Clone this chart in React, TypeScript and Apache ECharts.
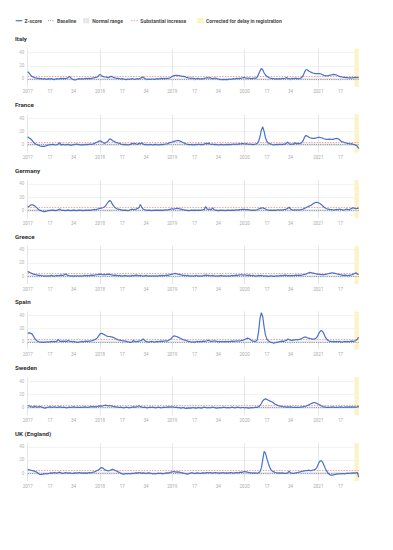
import React, { useEffect, useRef } from "react";
import * as echarts from "echarts";

// ---------- DATA ----------
const years = [2017, 2018, 2019, 2020, 2021];
const weeksInYear = [52, 52, 52, 53, 30];
const labelWeeks = [1, 17, 34];
const yTickValues = [0, 20, 40];
const countries = ["Italy", "France", "Germany", "Greece", "Spain", "Sweden", "UK (England)"];

const baselineValue = 0;
const normalRange = [-2, 2];
const substantialIncrease = 4;
const correctedWeeks = ["2021-W27", "2021-W30"];

const italy = [
  // 2017
  11, 9, 6, 4, 3, 2, 1.5, 1, 1, 0.5, 0.5, 0, 0.5,
  0, -0.5, 0.5, 0, 0.5, 0, -1, 0, 0.5, 0, 0.5, 1, 0.5,
  1, 0.5, 1, 2, 4, 1.5, 0, -1, -1.5, -1, 0, 0.5, 0,
  0.5, 0, 0.5, 1, 0.5, 1, 0.5, 1, 1.5, 2, 2.5, 3, 5,
  // 2018
  7, 5, 4, 3, 3, 2.5, 2, 3, 4, 3, 2, 1.5, 1,
  1, 0.5, 0, 0.5, 0, -0.5, -1, 0, -0.5, 0, 0.5, 0, -0.5,
  0, 0.5, 0, 1, 2, 3, 1, 0, -0.5, 0, -0.5, 0, 0,
  -0.5, 0, 0.5, 0, 0.5, 1, 0.5, 1, 0.5, 1, 1, 1.5, 2.5,
  // 2019
  4, 5, 5.5, 5.5, 5, 5, 4.5, 4, 4, 3.5, 2.5, 2, 1.5,
  1, 1.5, 1, 0.5, 0, 1, 0.5, 0, 0.5, 0, 1, 1.5, 2,
  1.5, 2, 1, 0.5, 1, 1.5, 0.5, 0, -0.5, -1, -1, -0.5, -1,
  -0.5, -1, 0, -0.5, 0, 0.5, 0, 1, 0.5, 1, 1, 1.5, 2,
  // 2020
  2, 1.5, 1, 1.5, 1, 0.5, 1, 1.5, 1, 3, 7, 12, 16,
  14, 9, 6, 4, 2.5, 1.5, 1, 0.5, 0.5, 0, 0.5, 0, 0.5,
  0, 1, 0.5, 1, 2, 1, 0.5, 0, 1, 0.5, 1, 1, 0.5,
  0.5, 1, 2, 5, 10, 14, 14, 12, 11, 10, 9, 8.5, 8, 8,
  // 2021
  8, 8, 7.5, 6.5, 5.5, 5, 4.5, 5, 5.5, 6, 6.5, 7, 6.5,
  6, 5, 4, 3.5, 3, 2.5, 2.5, 2, 2, 1.5, 2, 1.5, 2,
  2, 2.5, 2, 2,
];

const france = [
  // 2017
  12, 10, 9, 7, 4, 2, 0.5, 0, -1, -2, -2.5, -2.5, -2.5,
  -2, -1, -0.5, 0, 0, 0.5, 0, -0.5, 0, 1, 3, -1, 0.5,
  0, -0.5, 0, 0.5, 0, -1, -0.5, 0, 0.5, 1, 0.5, 0, -0.5,
  0, -0.5, 0, 0.5, 0, 0.5, 1, 0.5, 1, 2, 3, 4, 5,
  // 2018
  6, 5, 3.5, 2, 3, 4, 6, 9, 8, 6, 5, 4, 3,
  2.5, 2, 1, 0.5, 0, 0.5, 0, -0.5, 0, 0.5, 2, 1, 2,
  1, 0.5, 2, 1.5, 3, 1, 0, 0.5, 0, -0.5, 0.5, 0, -0.5,
  0, 0.5, 0, -0.5, 0, 0.5, 0, 0.5, 1, 1, 2, 3, 3.5,
  // 2019
  4, 5, 5.5, 6, 6.5, 6, 5, 4, 3, 2, 1, 0.5, 0,
  0, 0.5, -0.5, 0, 0.5, 0, 1, 0, 0.5, 0, 1, 2, 1,
  2.5, 1, 0.5, 1, 0, 0.5, 0, -0.5, 0, 0.5, 0, -0.5, 0,
  0.5, 0, 0.5, 0, 0.5, 1, 0.5, 1, 0.5, 1.5, 1, 1.5, 1.5,
  // 2020
  1, 1.5, 1, 0.5, 1, 0.5, 0, 0.5, 1, 2, 5, 12, 22,
  27, 20, 10, 5, 2.5, 1.5, 1, 0, -0.5, 0, 0.5, 0, 0.5,
  0.5, 0, 1, 0.5, 2, 4, 1.5, 0.5, 1, 0.5, 3, 1.5, 2,
  1.5, 2, 3, 6, 11, 14, 13, 11.5, 10.5, 10, 9.5, 9.5, 10, 10.5,
  // 2021
  11, 11, 10.5, 10, 9, 8.5, 8, 8, 8.5, 8, 8, 8.5, 9,
  9.5, 9, 8, 6, 4.5, 4, 3, 2.5, 2, 1.5, 1, 1.5, 0.5,
  0, -1, -2, -6,
];

const germany = [
  // 2017
  5, 6, 8, 8.5, 8, 7, 5, 3, 1, 0, -1, -1.5, -2,
  -1.5, -1, -0.5, 0, 0, 0.5, 0, -0.5, 0, 1, 2, 0.5, 0,
  0, -0.5, 0, 0.5, 0, -0.5, 0, 0.5, 0, -0.5, 0, 0.5, 0,
  0, -0.5, 0, 0.5, 0, 0.5, 0, 0.5, 1, 1.5, 1, 2, 2.5,
  // 2018
  3, 3.5, 4, 5, 7, 10, 13, 15, 13, 9, 6, 4, 2.5,
  2, 1.5, 1, 0.5, 0, 0.5, 0, -0.5, 0, 1, 2, 1, 1.5,
  2, 3, 4, 9, 5, 2, 1, 0.5, 0, 0.5, 0, -0.5, 0,
  0, 0.5, 0, 0.5, 0, 0.5, 0, 0.5, 1, 0.5, 1, 1.5, 2,
  // 2019
  2.5, 2, 2.5, 3, 3, 2.5, 2, 1.5, 1, 0.5, 0, 0, -0.5,
  0, 0.5, 0, 0.5, 0, 0, 0.5, 0, 0.5, 1, 1.5, 6, 2,
  1.5, 2, 1, 4, 1, 0.5, 0, -0.5, 0, 0.5, 0, 0, -0.5,
  0, 0.5, 0, 0, 0.5, 0, 0.5, 1, 0.5, 1, 1, 1.5, 1.5,
  // 2020
  1.5, 1, 1.5, 1, 0.5, 0, 0.5, 0, 0.5, 1, 2, 3, 3.5,
  4, 3, 2, 1, 0.5, 0, 0.5, 0, 0.5, 0, 0.5, 1, 0.5,
  1, 0.5, 1, 1.5, 2, 3, 5, 2, 1, 0.5, 1, 0.5, 1,
  0.5, 1, 1.5, 2, 3, 4, 5, 6, 7, 8, 9.5, 11, 12, 12,
  // 2021
  11.5, 10.5, 9, 7, 5, 3.5, 2.5, 2, 1.5, 1, 1, 0.5, 1,
  1.5, 1, 2, 1.5, 1, 0.5, 1, 2, 1.5, 1, 2, 3, 4,
  3, 2.5, 3, 3,
];

const greece = [
  // 2017
  7, 6, 5, 4, 3, 2.5, 2, 1.5, 1, 1, 0.5, 0.5, 0,
  0.5, 0, 0.5, 0, 1, 0.5, 0, 0.5, 1, 0.5, 1, 1.5, 1,
  1.5, 3, 2, 1, 0.5, 0, 0.5, 0, 0.5, 0, 0.5, 0, 0.5,
  0, 0.5, 1, 0.5, 1, 0.5, 1, 1.5, 1, 1.5, 2, 2, 2.5,
  // 2018
  3, 2.5, 2, 2.5, 2, 2.5, 3, 2.5, 2, 1.5, 1, 1.5, 1,
  0.5, 1, 0.5, 0, 0.5, 1, 0.5, 0, 0.5, 0, 1, 0.5, 1,
  1.5, 1, 0.5, 1, 0.5, 0, 0.5, 1, 0.5, 0, 0.5, 0, 0.5,
  0, 0.5, 0, 0.5, 1, 0.5, 1, 0.5, 1, 1.5, 1, 2, 2.5,
  // 2019
  3, 3.5, 4, 3.5, 3, 2.5, 2, 1.5, 1, 1, 0.5, 1, 0.5,
  0, 0.5, 0, 0.5, 1, 0.5, 0, 0.5, 0, 0.5, 1, 1.5, 1,
  1, 0.5, 0.5, 1, 0.5, 0, 0.5, 0, 0.5, 1, 0.5, 0, 0.5,
  0, 0.5, 0, 0.5, 1, 0.5, 1, 1.5, 1, 1.5, 2, 2, 1.5,
  // 2020
  2, 1.5, 1, 1.5, 1, 0.5, 1, 0.5, 0, 0.5, 1, 0.5, 1,
  0.5, 0, 0.5, 0, -0.5, 0, 0.5, 0, -0.5, 0, 0.5, 0, 0.5,
  1, 0.5, 1, 1.5, 1, 0.5, 1, 0.5, 1, 0.5, 1, 1.5, 1,
  1.5, 1, 1.5, 2, 2.5, 3, 4, 5, 5.5, 5, 4.5, 4, 3.5, 3,
  // 2021
  3, 2.5, 2, 2.5, 2, 2.5, 3, 3.5, 4, 4.5, 5, 4.5, 4,
  3.5, 3, 2.5, 2, 1.5, 1, 1.5, 1, 0.5, 1, 1.5, 2, 3,
  4, 5, 3, 2.5,
];

const spain = [
  // 2017
  13, 13.5, 13, 12, 9, 5, 2.5, 1, 0, -0.5, -0.5, -1, -0.5,
  -0.5, 0, -0.5, 0, 0.5, 0, 0.5, 0, 1, 3.5, 1, 0.5, 1,
  0.5, 1, 0.5, 2, 1, 0.5, 0, 0.5, 0, -0.5, -1, -0.5, 0,
  0.5, 0, 0.5, 1, 0.5, 1, 1, 1.5, 2, 3, 4, 6, 9,
  // 2018
  12, 13, 12, 11, 9.5, 8.5, 8, 8, 7.5, 7, 6, 5, 4,
  3, 2.5, 2, 1.5, 1.5, 1, 0.5, 0, -0.5, -1, -0.5, 2, 0.5,
  0, 0.5, 1, 1.5, 2, 4.5, 2, 0.5, 0, -0.5, 0, 0.5, 0,
  -0.5, 0, 0.5, 0, 0.5, 1, 0.5, 1, 1.5, 1, 2, 3, 4.5,
  // 2019
  7, 9, 8.5, 8, 7, 6, 5, 4, 3, 2.5, 2, 1, 0.5,
  0, -0.5, 0, -0.5, 0, 0.5, 0, 0.5, 0, 1, 0.5, 1, 1.5,
  2.5, 1, 0.5, 1, 1.5, 1, 0.5, 0, 0.5, 0, 0.5, 0, 0.5,
  0, 0.5, 0, 0.5, 1, 0.5, 1, 1, 1.5, 1, 1.5, 2, 2.5,
  // 2020
  3.5, 4.5, 5.5, 5, 3.5, 2, 1, 0.5, 0.5, 3, 15, 35, 44,
  38, 22, 10, 4, 1.5, 0, -1, -1.5, -2, -1.5, -1, -0.5, 0,
  0.5, 1, 0.5, 1.5, 2, 4, 3.5, 2.5, 2, 2.5, 3, 3.5, 3,
  3.5, 4, 5, 6, 7, 7, 6, 5.5, 5, 4.5, 4, 4, 5, 7,
  // 2021
  11, 15, 17, 16, 12, 7, 4, 2, 1, 0.5, 0, 0.5, 0,
  0.5, 0, 0.5, 0, -0.5, 0, 0.5, 0, 0.5, 0, 0.5, 1, 0.5,
  1, 2, 4, 7,
];

const sweden = [
  // 2017
  3, 2.5, 1.5, 1, 0.5, 2, 1, 0.5, 1, 1.5, 0.5, 0, -1,
  -0.5, 0, 0.5, 1, 0.5, 0, 1, 0.5, 0, 0.5, 1, 0.5, 0,
  0.5, 0, -0.5, 0, 0.5, 0, 0.5, 1, 0.5, 0, 0.5, 0, 0.5,
  0, 0.5, 1, 0.5, 0, 0.5, 1, 1.5, 1, 1.5, 1, 1.5, 2,
  // 2018
  2.5, 2, 2.5, 3, 3.5, 3, 2.5, 3, 2.5, 2, 1.5, 1, 0.5,
  0.5, 0, 0.5, 0, -0.5, 0, 0.5, 0, -0.5, 0, 0.5, 1, 0.5,
  1, 1.5, 2.5, 1.5, 0.5, 0, 0.5, 0, -0.5, 0, 0.5, 0, 0.5,
  0, -0.5, 0, 0.5, 0, -0.5, 0, 0.5, 0, 0.5, 1, 0.5, 1,
  // 2019
  1, 0.5, 0, 0.5, -0.5, 0, -1, -0.5, 0, -1, -1.5, -1, -0.5,
  -1, -0.5, 0, -0.5, -1, -0.5, 0, -0.5, -1, 0, 0.5, 0, -0.5,
  0, -0.5, 0, 0.5, 0, -0.5, -1, -0.5, 0, -0.5, 0, 0.5, 0,
  -0.5, 0, -0.5, 0, 0.5, 0, -0.5, 0, 0.5, 0, -0.5, 0, 0,
  // 2020
  -0.5, 0, -0.5, -1, -0.5, 0, -0.5, 0, 0.5, 0, 1, 3, 6,
  10, 12, 13, 12, 11, 10, 9, 8, 6.5, 5, 4, 3, 2.5,
  2, 1.5, 1, 1, 0.5, 1, 0.5, 1, 0.5, 0, 0.5, 0, 0.5,
  0, 0.5, 1, 1, 1.5, 2, 3, 4, 5, 6, 7, 7.5, 7, 6,
  // 2021
  5, 4, 2.5, 1.5, 1, 0.5, 0, 0.5, 0, 0.5, 1, 0.5, 0,
  0.5, 0, 0.5, 1, 0.5, 0, 0.5, 1, 0.5, 1, 0.5, 1, 0.5,
  1, 0.5, 1, 2,
];

const ukEngland = [
  // 2017
  6, 5, 4.5, 4, 3.5, 3, 2, 0.5, -1, -2, -2, -1.5, -1,
  -0.5, -1, -0.5, 0, 0.5, 0, 1, 0.5, 0, 1, 1.5, 0.5, -0.5,
  0, 1, 0.5, 0, 0.5, 0, -0.5, 0, 0.5, 0, 0.5, 1, 0.5,
  0, 0.5, 0, 0.5, 0, 1, 0.5, 1, 1.5, 2, 3, 4, 5,
  // 2018
  7, 8.5, 8, 6, 4.5, 4, 3.5, 4, 5, 6, 5, 4, 3,
  2, 1, 0, -1, -1.5, -1, -0.5, -1, -0.5, -1, 0, -0.5, 0,
  0.5, 0, 1, 0.5, 0, 0.5, 0, -0.5, 0, 0.5, 0, -0.5, -1,
  -0.5, -1, -0.5, 0, -0.5, 0, -1, -0.5, 0, 0.5, 0, 1, 1.5,
  // 2019
  2, 2.5, 2, 1.5, 2, 1.5, 1, 0.5, 0, -0.5, -1, -1.5, -0.5,
  0, 1, 0, -0.5, 0, 0.5, 0, -0.5, 0, 0.5, 0, 0.5, 1,
  0.5, 1, 0.5, 0, 0.5, 1, 0.5, 0, 0.5, 0, 1, 0.5, 0,
  0.5, 0, 0.5, 1, 0.5, 0, 0.5, 1, 0.5, 1, 1.5, 1, 2,
  // 2020
  2.5, 2, 1.5, 1, 0.5, 0.5, 0, 0.5, 0, 0, 0.5, 2, 8,
  20, 33, 30, 22, 15, 9, 5, 3, 2, 1, 0.5, 0, 0.5,
  0, 0.5, 0, -0.5, 0, 0.5, 3, 0.5, 0, -0.5, 0, 0.5, 1,
  1.5, 2, 2.5, 3, 3.5, 4, 4, 4.5, 4, 4, 4.5, 5, 6, 9,
  // 2021
  14, 18, 19, 17, 12, 7, 3, 0, -2, -3, -3, -2.5, -2,
  -1.5, -1, -1, -0.5, -1, -0.5, -1, -0.5, 0, -0.5, 0, 0, 0.5,
  0, 0.5, 1, -6,
];

const seriesValues = [italy, france, germany, greece, spain, sweden, ukEngland];

// ---------- LAYOUT ----------
const W = 393;
const H = 550;
const GRID_LEFT = 27.7;
const GRID_RIGHT = 34.3;
const PANEL_TOP0 = 48.6;
const PANEL_STEP = 65.7;
const PANEL_H = 38.3;
const Y_MIN = -12;
const Y_MAX = 46;
const FONT = "Roboto, 'Noto Sans', sans-serif";

const BLUE = "#4a72c8";
const RED = "#f19a9a";
const GREY_DOT = "#8a8a8a";
const BAND = "#e6eaef";
const YELLOW = "#fcf3c4";

const categories: string[] = [];
years.forEach((y, i) => {
  for (let w = 1; w <= weeksInYear[i]; w++) categories.push(`${y}-W${w}`);
});

const weekOf = (c: string) => parseInt(c.split("-W")[1], 10);
const yearOf = (c: string) => c.split("-W")[0];

export default function App() {
  const ref = useRef<HTMLDivElement>(null);

  useEffect(() => {
    if (!ref.current) return;
    const chart = echarts.init(ref.current, null, { renderer: "svg" });

    const grids: any[] = [];
    const xAxes: any[] = [];
    const yAxes: any[] = [];
    const series: any[] = [];
    const graphics: any[] = [];

    countries.forEach((name, i) => {
      const top = PANEL_TOP0 + PANEL_STEP * i;
      grids.push({ left: GRID_LEFT, right: GRID_RIGHT, top, height: PANEL_H });
      xAxes.push({
        type: "category",
        gridIndex: i,
        data: categories,
        boundaryGap: false,
        axisLine: { show: false },
        axisTick: {
          show: true,
          length: 2,
          interval: (idx: number, v: string) => labelWeeks.includes(weekOf(v)),
          lineStyle: { color: "#cccccc", width: 0.6 },
        },
        axisLabel: {
          interval: (idx: number, v: string) => labelWeeks.includes(weekOf(v)),
          formatter: (v: string) => (weekOf(v) === 1 ? yearOf(v) : String(weekOf(v))),
          fontSize: 4.5,
          color: "#aaaaaa",
          fontFamily: FONT,
          margin: 2.5,
        },
        splitLine: {
          show: true,
          interval: (idx: number, v: string) => weekOf(v) === 1,
          lineStyle: { color: "#dddddd", width: 0.7 },
        },
      });
      yAxes.push({
        type: "value",
        gridIndex: i,
        min: Y_MIN,
        max: Y_MAX,
        axisLine: { show: false },
        axisTick: { show: false, customValues: yTickValues },
        axisLabel: {
          customValues: yTickValues,
          fontSize: 4.5,
          color: "#b5b5b5",
          fontFamily: FONT,
          margin: 3.5,
        },
        splitLine: { show: true, lineStyle: { color: "#eeeeee", width: 0.7 } },
      });
      series.push({
        name: "Z-score",
        type: "line",
        xAxisIndex: i,
        yAxisIndex: i,
        data: seriesValues[i],
        symbol: "none",
        lineStyle: { color: BLUE, width: 1.2 },
        z: 3,
        markArea: {
          silent: true,
          z: 1,
          data: [
            [{ yAxis: normalRange[0], itemStyle: { color: BAND } }, { yAxis: normalRange[1] }],
            [{ xAxis: correctedWeeks[0], itemStyle: { color: YELLOW } }, { xAxis: correctedWeeks[1] }],
          ],
        },
        markLine: {
          silent: true,
          z: 2,
          symbol: "none",
          label: { show: false },
          data: [
            { yAxis: baselineValue, lineStyle: { color: GREY_DOT, type: [1, 1.2], width: 0.9 } },
            { yAxis: substantialIncrease, lineStyle: { color: RED, type: [1.5, 1.2], width: 0.9 } },
          ],
        },
      });
      graphics.push({
        type: "text",
        left: 15,
        top: top - 12.2,
        style: {
          text: name,
          fontSize: 6.2,
          fontWeight: "bold",
          fill: "#333333",
          fontFamily: FONT,
        },
      });
    });

    // legend
    const ly = 20.7;
    const legendText = (x: number, text: string) => ({
      type: "text",
      x,
      y: ly,
      style: {
        text,
        fontSize: 5,
        fontWeight: "bold",
        fill: "#4a4a4a",
        fontFamily: FONT,
        verticalAlign: "middle",
        align: "left",
      },
    });
    graphics.push(
      { type: "line", shape: { x1: 15.7, y1: ly, x2: 22.3, y2: ly }, style: { stroke: BLUE, lineWidth: 1.2 } },
      legendText(24.5, "Z-score"),
      { type: "line", shape: { x1: 48, y1: ly, x2: 54.5, y2: ly }, style: { stroke: GREY_DOT, lineWidth: 0.9, lineDash: [1, 1.2] } },
      legendText(57, "Baseline"),
      { type: "rect", shape: { x: 83, y: ly - 2.7, width: 6.5, height: 5.4 }, style: { fill: BAND } },
      legendText(92.3, "Normal range"),
      { type: "line", shape: { x1: 131, y1: ly, x2: 138, y2: ly }, style: { stroke: RED, lineWidth: 0.9, lineDash: [1.5, 1.2] } },
      legendText(140.3, "Substantial increase"),
      { type: "rect", shape: { x: 197.3, y: ly - 2.7, width: 6.5, height: 5.4 }, style: { fill: YELLOW } },
      legendText(206, "Corrected for delay in registration")
    );

    chart.setOption({
      animation: false,
      backgroundColor: "#ffffff",
      grid: grids,
      xAxis: xAxes,
      yAxis: yAxes,
      series,
      graphic: graphics,
    });

    return () => chart.dispose();
  }, []);

  return (
    <div
      ref={ref}
      style={{ position: "fixed", left: 0, top: 0, width: W, height: H }}
    />
  );
}
